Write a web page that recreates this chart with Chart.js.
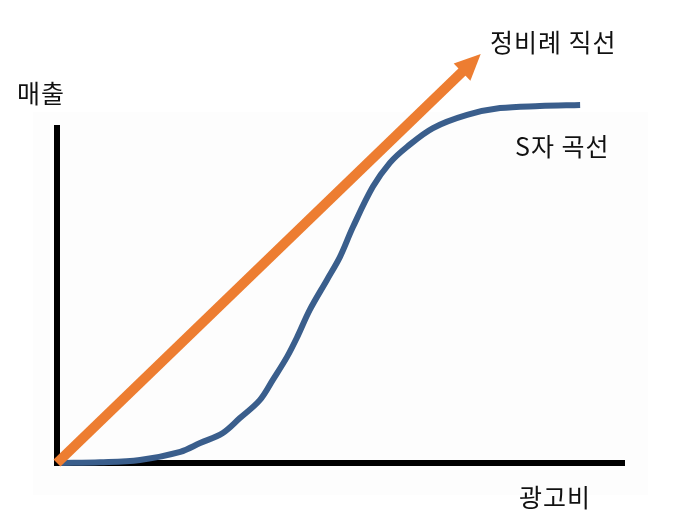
<!DOCTYPE html>
<html>
<head>
<meta charset="utf-8">
<script src="https://cdn.jsdelivr.net/npm/chart.js@4/dist/chart.umd.min.js"></script>
<style>
  html, body { margin: 0; padding: 0; background: #ffffff; }
  #wrap { width: 673px; height: 532px; }
</style>
</head>
<body>
<div id="wrap"><canvas id="chart"></canvas></div>
<script>
// 광고비(x) - 매출(y), 0..100 scale
const sCurveX = [0.5, 7.6, 14.6, 21.7, 25.2, 29.2, 32.2, 35.7, 38.0, 40.5, 42.3, 44.5, 47.5, 49.8, 52.1, 55.6, 58.6, 61.6, 66.2, 72.2, 78.0, 85.0, 92.1];
const sCurveY = [0.0, 0.2, 0.9, 3.3, 5.9, 8.9, 13.3, 18.6, 24.6, 31.4, 37.3, 45.3, 54.1, 60.9, 69.8, 81.7, 88.8, 93.5, 99.1, 103.0, 105.0, 105.6, 105.9];
const lineX = [0, 74.6];
const lineY = [0, 121];

const labels = {
  line: "정비례 직선",
  curve: "S자 곡선",
  yTitle: "매출",
  xTitle: "광고비"
};

const font = '25px "Noto Sans CJK KR", "Noto Sans", sans-serif';

const toPoints = (xs, ys) => xs.map((x, i) => ({ x: x, y: ys[i] }));

// axes, arrow and texts
const sketchPlugin = {
  id: "sketch",
  beforeDraw(chart) {
    const c = chart.ctx;
    c.save();
    c.fillStyle = "#fdfdfd";
    c.fillRect(33, 112, 615, 383);
    c.restore();
  },
  beforeDatasetsDraw(chart) {
    const c = chart.ctx;
    const a = chart.chartArea;
    c.save();
    c.strokeStyle = "#000";
    c.lineWidth = 6;
    c.lineCap = "butt";
    c.beginPath();
    c.moveTo(a.left, a.top);
    c.lineTo(a.left, a.bottom + 3);
    c.moveTo(a.left - 3, a.bottom);
    c.lineTo(a.right, a.bottom);
    c.stroke();
    c.restore();
  },
  afterDatasetsDraw(chart) {
    const c = chart.ctx;
    const pts = chart.getDatasetMeta(1).data;
    const p0 = pts[0], p1 = pts[pts.length - 1];
    const dx = p1.x - p0.x, dy = p1.y - p0.y;
    const len = Math.hypot(dx, dy);
    const ux = dx / len, uy = dy / len;
    const headLen = 26, headHalf = 12;
    const bx = p1.x - ux * headLen, by = p1.y - uy * headLen;
    c.save();
    c.strokeStyle = "#ed7d31";
    c.fillStyle = "#ed7d31";
    c.lineWidth = 10;
    c.lineCap = "butt";
    c.beginPath();
    c.moveTo(p0.x, p0.y);
    c.lineTo(bx + ux * 2, by + uy * 2);
    c.stroke();
    c.beginPath();
    c.moveTo(p1.x, p1.y);
    c.lineTo(bx - uy * headHalf, by + ux * headHalf);
    c.lineTo(bx + uy * headHalf, by - ux * headHalf);
    c.closePath();
    c.fill();

    c.fillStyle = "#111";
    c.font = font;
    c.letterSpacing = "1px";
    c.textBaseline = "middle";
    c.textAlign = "left";
    c.fillText(labels.line, 490, 42);
    c.fillText(labels.yTitle, 17, 93);
    c.fillText(labels.curve, 515, 146);
    c.fillText(labels.xTitle, 519, 497);
    c.restore();
  }
};

new Chart(document.getElementById("chart"), {
  type: "scatter",
  data: {
    datasets: [
      {
        label: labels.curve,
        data: toPoints(sCurveX, sCurveY),
        showLine: true,
        borderColor: "#3a5e8c",
        borderWidth: 6,
        pointRadius: 0,
        tension: 0.35,
        clip: false
      },
      {
        label: labels.line,
        data: toPoints(lineX, lineY),
        showLine: false,
        pointRadius: 0,
        borderWidth: 0,
        clip: false
      }
    ]
  },
  options: {
    responsive: true,
    maintainAspectRatio: false,
    animation: false,
    layout: { padding: { left: 57, right: 48, top: 125, bottom: 69 } },
    plugins: {
      legend: { display: false },
      tooltip: { enabled: false }
    },
    scales: {
      x: { type: "linear", min: 0, max: 100, display: false },
      y: { type: "linear", min: 0, max: 100, display: false }
    }
  },
  plugins: [sketchPlugin]
});
</script>
</body>
</html>
